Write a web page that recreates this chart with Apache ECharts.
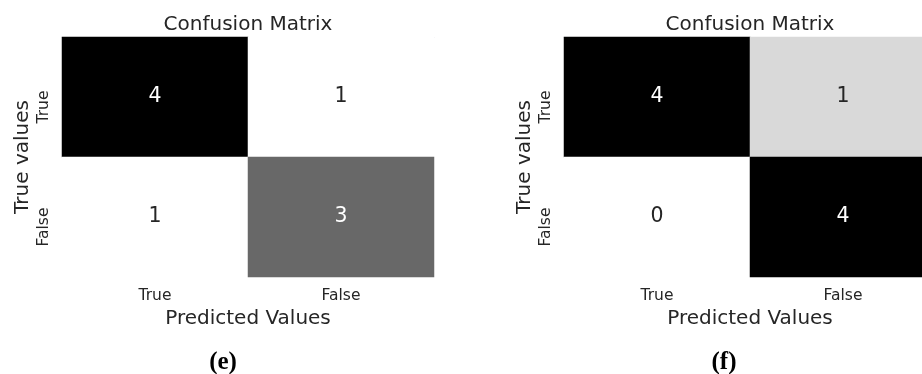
<!DOCTYPE html>
<html>
<head>
<meta charset="utf-8">
<script src="https://cdn.jsdelivr.net/npm/echarts@6/dist/echarts.min.js"></script>
<style>
  html, body { margin: 0; padding: 0; background: #ffffff; overflow: hidden; width: 922px; height: 374px; }
  /* drawing surface is a little wider than the page so the second panel runs off the right edge */
  #chart { width: 940px; height: 374px; }
</style>
</head>
<body>
<div id="chart"></div>
<script>
// Confusion matrices for two classifiers: rows = true class, columns = predicted class
const predictedLabels = ['True', 'False'];
const trueLabels = ['True', 'False'];
const matrixE = [[4, 1], [1, 3]];
const matrixF = [[4, 1], [0, 4]];
const panelTitles = ['Confusion Matrix', 'Confusion Matrix'];
const captions = ['(e)', '(f)'];

// sequential grey ramp (white -> black)
const greys = ['#ffffff', '#f0f0f0', '#d9d9d9', '#bdbdbd', '#969696',
               '#737373', '#525252', '#252525', '#000000'];
const textDark = '#262626';
const font = 'DejaVu Sans';

function cells(matrix) {
  const flat = matrix.flat();
  const lo = Math.min(...flat), hi = Math.max(...flat);
  const out = [];
  matrix.forEach((row, r) => {
    row.forEach((v, c) => {
      const t = hi > lo ? (v - lo) / (hi - lo) : 0;
      out.push({
        value: [c, r, v],
        label: { color: t > 0.5 ? '#ffffff' : textDark }
      });
    });
  });
  return { data: out, min: lo, max: hi };
}

const panels = [cells(matrixE), cells(matrixF)];
const grids = [
  { left: 62, width: 372, top: 37, height: 240 },
  { left: 564, width: 372, top: 37, height: 240 }
];
const titleCenters = [248, 750];
const captionCenters = [223, 724];
const titlePad = 5;

const option = {
  backgroundColor: '#ffffff',
  animation: false,
  textStyle: { fontFamily: font },
  title: [
    ...panelTitles.map((t, i) => ({
      text: t,
      left: titleCenters[i] - titlePad,
      top: 10,
      textAlign: 'center',
      textStyle: { fontFamily: font, fontSize: 20, fontWeight: 'normal', color: textDark }
    })),
    ...captions.map((t, i) => ({
      text: t,
      left: captionCenters[i] - titlePad,
      top: 345,
      textAlign: 'center',
      textStyle: { fontFamily: 'Liberation Serif', fontSize: 25, fontWeight: 'bold', color: '#000' }
    }))
  ],
  grid: grids,
  xAxis: [0, 1].flatMap(i => ([
    {
      type: 'category', gridIndex: i, data: predictedLabels, position: 'bottom',
      name: 'Predicted Values', nameLocation: 'middle', nameGap: 28,
      nameTextStyle: { fontFamily: font, fontSize: 20, color: textDark },
      axisLine: { show: false }, axisTick: { show: false }, splitLine: { show: false },
      axisLabel: { fontFamily: font, fontSize: 15.5, color: textDark, margin: 11 }
    },
    {
      type: 'category', gridIndex: i, data: predictedLabels, position: 'top',
      axisLine: { show: true, lineStyle: { color: '#e6e6ef', width: 1 } },
      axisTick: { show: false }, axisLabel: { show: false }, splitLine: { show: false }
    }
  ])),
  yAxis: [0, 1].map(i => ({
    type: 'category', gridIndex: i, data: trueLabels, inverse: true,
    name: 'True values', nameLocation: 'middle', nameGap: 29, nameRotate: 90,
    nameTextStyle: { fontFamily: font, fontSize: 20, color: textDark },
    axisLine: { show: false }, axisTick: { show: false }, splitLine: { show: false },
    axisLabel: {
      fontFamily: font, fontSize: 15.5, color: textDark, rotate: 90, margin: 10,
      padding: [0, 20, 0, 0]
    }
  })),
  visualMap: panels.map((p, i) => ({
    type: 'continuous', show: false, seriesIndex: i,
    min: p.min, max: p.max, dimension: 2,
    inRange: { color: greys }
  })),
  series: panels.map((p, i) => ({
    type: 'heatmap',
    xAxisIndex: i * 2, yAxisIndex: i,
    data: p.data,
    label: {
      show: true, fontFamily: font, fontSize: 20.5,
      formatter: d => String(d.value[2])
    },
    itemStyle: { borderWidth: 0 },
    emphasis: { disabled: true }
  }))
};

const chart = echarts.init(document.getElementById('chart'), null, { renderer: 'canvas' });
chart.setOption(option);
</script>
</body>
</html>
